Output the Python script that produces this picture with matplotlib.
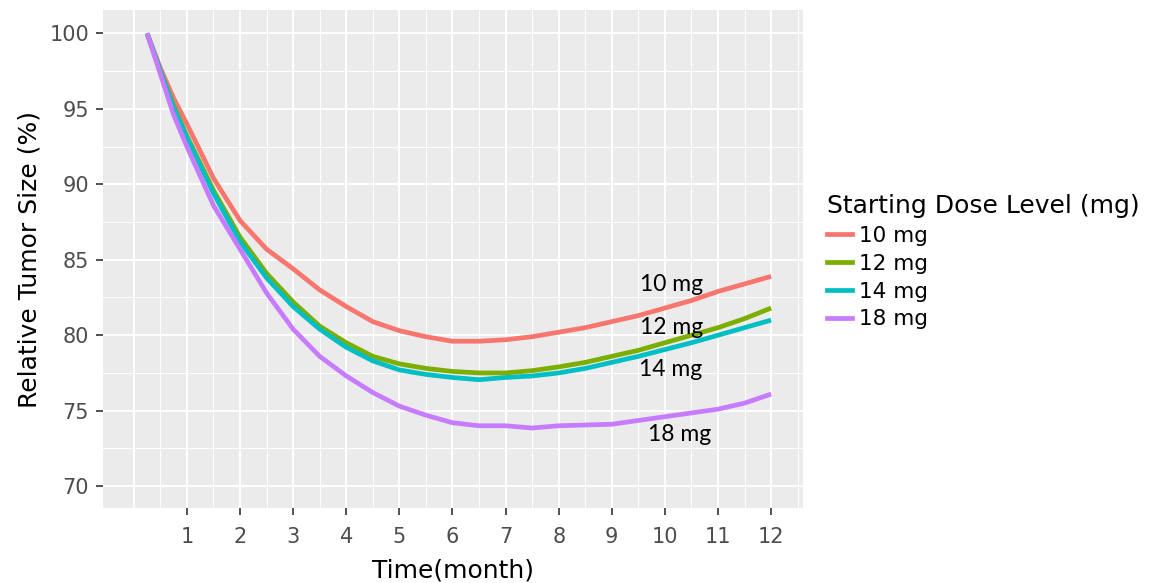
import matplotlib
matplotlib.use("Agg")
import matplotlib.pyplot as plt
from matplotlib.lines import Line2D
import numpy as np

# ---- data ----
months = [0.25, 0.5, 0.75, 1, 1.5, 2, 2.5, 3, 3.5, 4, 4.5, 5, 5.5, 6, 6.5, 7,
          7.5, 8, 8.5, 9, 9.5, 10, 10.5, 11, 11.5, 12]
size_10mg = [100, 97.7, 95.7, 94.0, 90.4, 87.6, 85.7, 84.4, 83.0, 81.9, 80.9, 80.3,
             79.9, 79.6, 79.6, 79.7, 79.9, 80.2, 80.5, 80.9, 81.3, 81.8, 82.3, 82.9,
             83.4, 83.9]
size_12mg = [100, 97.5, 95.2, 93.2, 89.6, 86.5, 84.1, 82.2, 80.6, 79.5, 78.6, 78.1,
             77.8, 77.6, 77.5, 77.5, 77.65, 77.9, 78.2, 78.6, 79.0, 79.5, 80.0, 80.5,
             81.1, 81.8]
size_14mg = [100, 97.5, 95.1, 93.1, 89.4, 86.2, 83.8, 81.9, 80.4, 79.2, 78.3, 77.7,
             77.4, 77.2, 77.05, 77.2, 77.3, 77.5, 77.8, 78.2, 78.6, 79.05, 79.5, 80.0,
             80.5, 81.0]
size_18mg = [100, 97.3, 94.6, 92.5, 88.6, 85.7, 82.8, 80.4, 78.6, 77.3, 76.2, 75.3,
             74.7, 74.2, 74.0, 74.0, 73.85, 74.0, 74.05, 74.1, 74.35, 74.6, 74.85, 75.1,
             75.5, 76.1]

series_labels = ["10 mg", "12 mg", "14 mg", "18 mg"]
series_values = [size_10mg, size_12mg, size_14mg, size_18mg]
colors = ["#F8766D", "#7CAE00", "#00BFC4", "#C77CFF"]

# in-plot text annotations (label, x, y)
annot_labels = ["10 mg", "12 mg", "14 mg", "18 mg"]
annot_x = [10.13, 10.13, 10.1, 10.28]
annot_y = [83.35, 80.5, 77.7, 73.4]

x_ticks = list(range(1, 13))
y_ticks = [70, 75, 80, 85, 90, 95, 100]

# ---- figure ----
plt.rcParams['font.family'] = ['DejaVu Sans']
fig = plt.figure(figsize=(11.66, 5.83), dpi=100)
ax = fig.add_axes([103/1166, 75/583, 700/1166, 498/583])
ax.set_facecolor("#EBEBEB")
ax.set_xlim(-0.58, 12.6)
ax.set_ylim(68.55, 101.55)

# grid
for x in np.arange(0, 12.6, 0.5):
    major = float(x).is_integer()
    ax.axvline(x, color="white", lw=1.4 if major else 0.7, zorder=0)
for y in np.arange(70, 101, 2.5):
    major = float(y) % 5 == 0
    ax.axhline(y, color="white", lw=1.4 if major else 0.7, zorder=0)

for lab, vals, c in zip(series_labels, series_values, colors):
    ax.plot(months, vals, color=c, lw=3.4, solid_capstyle="butt", zorder=3)

for lab, x, y in zip(annot_labels, annot_x, annot_y):
    ax.text(x, y, lab, fontsize=16.5, family=["Lato", "DejaVu Sans"], color="black",
            ha="center", va="center", zorder=4)

ax.set_xticks(x_ticks)
ax.set_xticklabels([str(t) for t in x_ticks])
ax.set_yticks(y_ticks)
ax.set_yticklabels([str(t) for t in y_ticks])
ax.tick_params(axis="both", colors="#333333", labelcolor="#4D4D4D", labelsize=15,
               length=5, width=1.2)
ax.tick_params(axis="x", pad=9)
ax.tick_params(axis="y", pad=5)
for s in ax.spines.values():
    s.set_visible(False)

ax.set_xlabel("Time(month)", fontsize=18, color="black", labelpad=8)
ax.set_ylabel("Relative Tumor Size (%)", fontsize=18, color="black", labelpad=6)

# legend
handles = [Line2D([0], [0], color=c, lw=3.4) for c in colors]
leg = fig.legend(handles, series_labels, title="Starting Dose Level (mg)",
                 loc="upper left", bbox_to_anchor=(818/1166, 1 - 185/583),
                 frameon=False, fontsize=15.5, title_fontsize=18,
                 handlelength=1.2, handletextpad=0.3, labelspacing=0.37,
                 borderaxespad=0, alignment="left")

fig.savefig("out.png", dpi=100)
